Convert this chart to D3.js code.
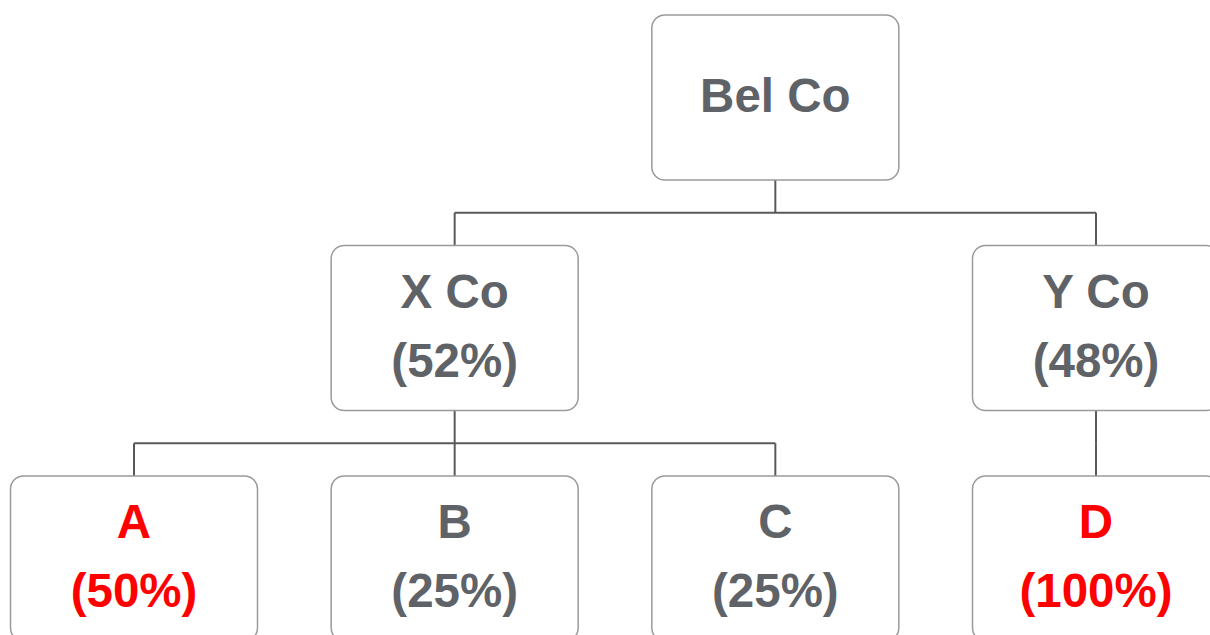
<!DOCTYPE html>
<html>
<head>
<meta charset="utf-8">
<script src="https://cdn.jsdelivr.net/npm/d3@7"></script>
<style>
  body { margin: 0; background: #fff; }
  svg { display: block; }
</style>
</head>
<body>
<div class="mainDiv"></div>
<script>
// org chart data
const names   = ["Bel Co", "X Co", "Y Co", "A", "B", "C", "D"];
const parents = ["",       "Bel Co", "Bel Co", "X Co", "X Co", "X Co", "Y Co"];
const shares  = ["",       "(52%)", "(48%)", "(50%)", "(25%)", "(25%)", "(100%)"];
const highlighted = ["A", "D"];

const width = 1210, height = 635;
const boxW = 247, boxH = 165;
const fontSize = 47.5;

const svg = d3.select('.mainDiv').append('svg')
  .attr('width', width).attr('height', height);

const table = names.map((n, i) => ({name: n, parent: parents[i], share: shares[i]}));
const root = d3.stratify().id(d => d.name).parentId(d => d.parent || null)(table);

// leaves take columns in order, parents sit over the mean of their children
const leaves = root.leaves();
leaves.forEach((d, i) => d.col = i);
root.eachAfter(d => { if (d.children) d.col = d3.mean(d.children, c => c.col); });

const xScale = d3.scaleLinear().domain([0, leaves.length - 1]).range([134, 1096]);
const yScale = d3.scaleLinear().domain([0, root.height]).range([15, 476]);

const nodes = root.descendants();

// connectors
const links = svg.append('g')
  .attr('fill', 'none')
  .attr('stroke', '#595959')
  .attr('stroke-width', 2);

nodes.filter(d => d.children).forEach(p => {
  const px = xScale(p.col);
  const pBottom = yScale(p.depth) + boxH;
  const cTop = yScale(p.depth + 1);
  const midY = (pBottom + cTop) / 2;
  const xs = p.children.map(c => xScale(c.col));
  links.append('line')
    .attr('x1', px).attr('x2', px)
    .attr('y1', pBottom).attr('y2', midY);
  links.append('line')
    .attr('x1', d3.min(xs.concat(px))).attr('x2', d3.max(xs.concat(px)))
    .attr('y1', midY).attr('y2', midY);
  xs.forEach(cx => {
    links.append('line')
      .attr('x1', cx).attr('x2', cx)
      .attr('y1', midY).attr('y2', cTop);
  });
});

// boxes
const cells = svg.selectAll('g.cell')
  .data(nodes)
  .join('g')
  .attr('class', 'cell')
  .attr('transform', d => `translate(${xScale(d.col) - boxW / 2}, ${yScale(d.depth)})`);

cells.append('rect')
  .attr('width', boxW)
  .attr('height', boxH)
  .attr('rx', 13).attr('ry', 13)
  .attr('fill', '#fff')
  .attr('stroke', '#9a9a9a')
  .attr('stroke-width', 1.5);

const textColor = d => highlighted.includes(d.id) ? '#ff0000' : '#5f6368';

cells.append('text')
  .attr('x', boxW / 2)
  .attr('y', d => d.data.share ? 62 : 97)
  .attr('text-anchor', 'middle')
  .attr('font-family', 'Liberation Sans, Arial, sans-serif')
  .attr('font-weight', 'bold')
  .attr('font-size', fontSize)
  .attr('fill', textColor)
  .text(d => d.id);

cells.filter(d => d.data.share).append('text')
  .attr('x', boxW / 2)
  .attr('y', 131)
  .attr('text-anchor', 'middle')
  .attr('font-family', 'Liberation Sans, Arial, sans-serif')
  .attr('font-weight', 'bold')
  .attr('font-size', fontSize)
  .attr('fill', textColor)
  .text(d => d.data.share);
</script>
</body>
</html>
